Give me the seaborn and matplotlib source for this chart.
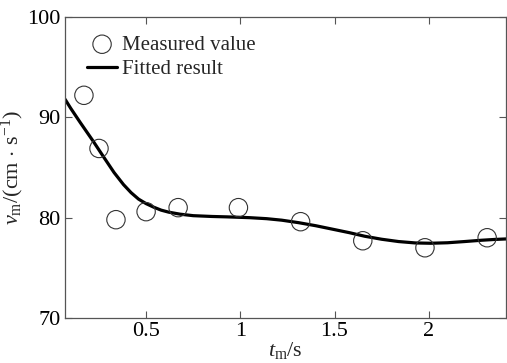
import numpy as np
import pandas as pd
import seaborn as sns
import matplotlib.pyplot as plt

# measured points
t_meas = [0.17, 0.25, 0.34, 0.50, 0.67, 0.99, 1.32, 1.65, 1.98, 2.31]
v_meas = [92.2, 86.9, 79.8, 80.6, 81.0, 81.0, 79.6, 77.7, 77.0, 78.0]

# fitted curve
t_fit = [0.07, 0.10, 0.15, 0.22, 0.28, 0.33, 0.38, 0.42, 0.46, 0.50, 0.54,
         0.58, 0.62, 0.68, 0.75, 0.85, 0.93, 1.05, 1.14, 1.22, 1.31, 1.40,
         1.49, 1.58, 1.66, 1.75, 1.84, 1.93, 2.01, 2.10, 2.19, 2.28, 2.35, 2.41]
v_fit = [91.8, 90.9, 89.5, 87.6, 85.9, 84.5, 83.3, 82.5, 81.85, 81.4, 81.05,
         80.75, 80.55, 80.35, 80.2, 80.12, 80.08, 80.0, 79.9, 79.75, 79.5, 79.2,
         78.85, 78.5, 78.15, 77.85, 77.62, 77.48, 77.45, 77.5, 77.62, 77.75, 77.83, 77.88]

x_ticks = [0.5, 1, 1.5, 2]
x_ticklabels = ["0.5", "1", "1.5", "2"]
y_ticks = [70, 80, 90, 100]

sns.set_style("white")
plt.rcParams["font.family"] = ["Liberation Serif", "DejaVu Serif"]
plt.rcParams["mathtext.fontset"] = "custom"
plt.rcParams["mathtext.rm"] = "Liberation Serif"
plt.rcParams["mathtext.it"] = "Liberation Serif:italic"

fig = plt.figure(figsize=(5.07, 3.63), dpi=100)
ax = fig.add_axes([0.128, 0.124, 0.87, 0.829])

meas = pd.DataFrame({"t": t_meas, "v": v_meas})
fit = pd.DataFrame({"t": t_fit, "v": v_fit})

sns.scatterplot(data=meas, x="t", y="v", ax=ax, marker="o", s=175,
                facecolor="none", edgecolor="#333333", linewidth=0.8,
                label="Measured value", zorder=3)
sns.lineplot(data=fit, x="t", y="v", ax=ax, color="black", linewidth=2.3,
             label="Fitted result", zorder=2)

ax.set_xlim(0.069, 2.41)
ax.set_ylim(70, 100)
ax.set_xticks(x_ticks)
ax.set_xticklabels(x_ticklabels)
ax.set_yticks(y_ticks)
ax.tick_params(direction="in", length=5, width=0.8, colors="#555555",
               labelsize=16, labelcolor="black", top=True, right=True,
               left=True, bottom=True, pad=3)
for sp in ax.spines.values():
    sp.set_color("#555555")
    sp.set_linewidth(0.9)

ax.set_xlabel(r"$\mathit{t}_{\mathrm{m}}$/s", fontsize=16, labelpad=-1)
ax.set_ylabel(r"$\mathit{v}_{\mathrm{m}}$/(cm $\cdot$ s$^{-1}$)", fontsize=16,
              labelpad=1)

ax.legend(loc="upper left", bbox_to_anchor=(0.05, 0.94), frameon=False,
          fontsize=15, handlelength=1.45, handletextpad=0.25,
          borderaxespad=0, borderpad=0, labelspacing=0.25)

fig.savefig("out.png", dpi=100)
